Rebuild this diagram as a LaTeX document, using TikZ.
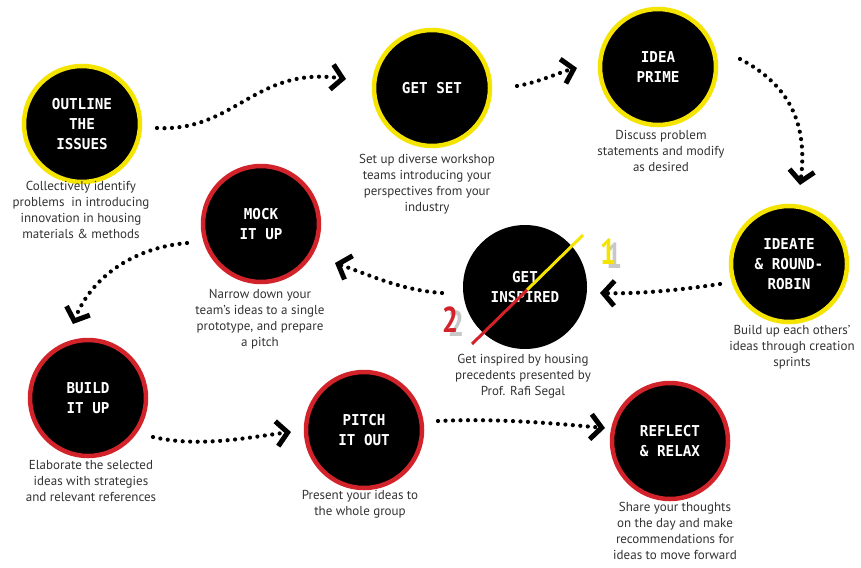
\documentclass[tikz,border=0pt]{standalone}
\usepackage{fontspec}
\setmainfont{PT Sans}
\newfontfamily\titlefont{DejaVu Sans Mono}[FakeStretch=0.95]
\newfontfamily\numfont{PT Sans}[FakeStretch=0.8]
\usetikzlibrary{arrows.meta}
\definecolor{cyel}{HTML}{F5E400}
\definecolor{cred}{HTML}{D2232A}
\definecolor{desc}{HTML}{333333}
\definecolor{shadow}{HTML}{C8C8C8}
\newcommand{\shadowdigit}[2]{\makebox[0pt][l]{\hspace{6pt}\raisebox{-4pt}{\textcolor{shadow}{#2}}}\textcolor{#1}{#2}}
\tikzset{
  stage/.style={circle, fill=black, draw=#1, line width=4.5pt, minimum size=116pt, inner sep=0pt,
    text=white, align=center, font=\titlefont\bfseries\fontsize{15}{20}\selectfont},
  plainstage/.style={circle, fill=black, minimum size=124pt, inner sep=0pt,
    text=white, align=center, font=\titlefont\bfseries\fontsize{15}{20}\selectfont},
  desctext/.style={anchor=north, align=center, text=desc, inner sep=0pt,
    font=\fontsize{13}{16}\selectfont},
  digit/.style={inner sep=0pt, font=\numfont\bfseries\fontsize{36}{36}\selectfont},
  flow/.style={line width=4.2pt, line cap=round, dash pattern=on 0pt off 7.5pt,
    -{Straight Barb[length=11pt,width=25pt,line width=5pt]}},
}
\begin{document}
\begin{tikzpicture}[x=1pt,y=-1pt]
\useasboundingbox (0,0) rectangle (861,567);
\fill[white] (0,0) rectangle (861,567);

% stages
\node[stage=cyel] (outline) at (82,124) {OUTLINE\\THE\\ISSUES};
\node[stage=cyel] (getset) at (432,88) {GET SET};
\node[stage=cyel] (prime) at (658,67) {IDEA\\PRIME};
\node[stage=cyel] (ideate) at (789,264) {IDEATE\\\& ROUND-\\ROBIN};
\node[plainstage] (inspired) at (525,287) {GET\\INSPIRED};
\node[stage=cred] (mock) at (261,224) {MOCK\\IT UP};
\node[stage=cred] (build) at (88,398) {BUILD\\IT UP};
\node[stage=cred] (pitch) at (364,430) {PITCH\\IT OUT};
\node[stage=cred] (reflect) at (670,441) {REFLECT\\\& RELAX};

% descriptions
\node[desctext] (d1) at (81,181) {Collectively identify\\problems\ \ in introducing\\innovation in housing\\materials \& methods};
\node[desctext] (d2) at (427,154) {Set up diverse workshop\\teams introducing your\\perspectives from your\\industry};
\node[desctext] (d3) at (661,130) {Discuss problem\\statements and modify\\as desired};
\node[desctext] (d4) at (792,325) {Build up each others'\\ideas through creation\\sprints};
\node[desctext] (d5) at (523,354) {Get inspired by housing\\precedents presented by\\Prof. Rafi Segal};
\node[desctext] (d6) at (260,289) {Narrow down your\\team's ideas to a single\\prototype, and prepare\\a pitch};
\node[desctext] (d7) at (91,460) {Elaborate the selected\\ideas with strategies\\and relevant references};
\node[desctext] (d8) at (360,490) {Present your ideas to\\the whole group};
\node[desctext] (d9) at (675,502) {Share your thoughts\\on the day and make\\recommendations for\\ideas to move forward};

% split line across GET INSPIRED
\coordinate (split) at (527,290);
\coordinate (yend) at (583,235);
\coordinate (rend) at (472,344);
\draw[cyel, line width=3pt] (split) -- (yend);
\draw[cred, line width=3pt] (split) -- (rend);
\node[digit] (n1) at (608,254) {\shadowdigit{cyel}{1}};
\node[digit] (n2) at (450,322) {\shadowdigit{cred}{2}};

% flow connectors
\coordinate (a1s) at (157,128); \coordinate (a1e) at (346,79);
\coordinate (a2s) at (517,86); \coordinate (a2e) at (577,68);
\coordinate (a3s) at (740,59); \coordinate (a3e) at (800,185);
\coordinate (a4s) at (720,284); \coordinate (a4e) at (600,293);
\coordinate (a5s) at (442,293); \coordinate (a5e) at (335,263);
\coordinate (a6s) at (187,243); \coordinate (a6e) at (73,324);
\coordinate (a7s) at (153,437); \coordinate (a7e) at (291,432);
\coordinate (a8s) at (438,421); \coordinate (a8e) at (605,428);
\draw[flow] (a1s) .. controls (235,132) and (255,66) .. (a1e);
\draw[flow] (a2s) .. controls (540,82) and (560,72) .. (a2e);
\draw[flow] (a3s) .. controls (790,85) and (808,125) .. (a3e);
\draw[flow] (a4s) .. controls (680,290) and (640,294) .. (a4e);
\draw[flow] (a5s) .. controls (400,290) and (370,275) .. (a5e);
\draw[flow] (a6s) .. controls (130,248) and (90,280) .. (a6e);
\draw[flow] (a7s) .. controls (200,448) and (250,437) .. (a7e);
\draw[flow] (a8s) .. controls (500,418) and (560,424) .. (a8e);
\end{tikzpicture}
\end{document}
